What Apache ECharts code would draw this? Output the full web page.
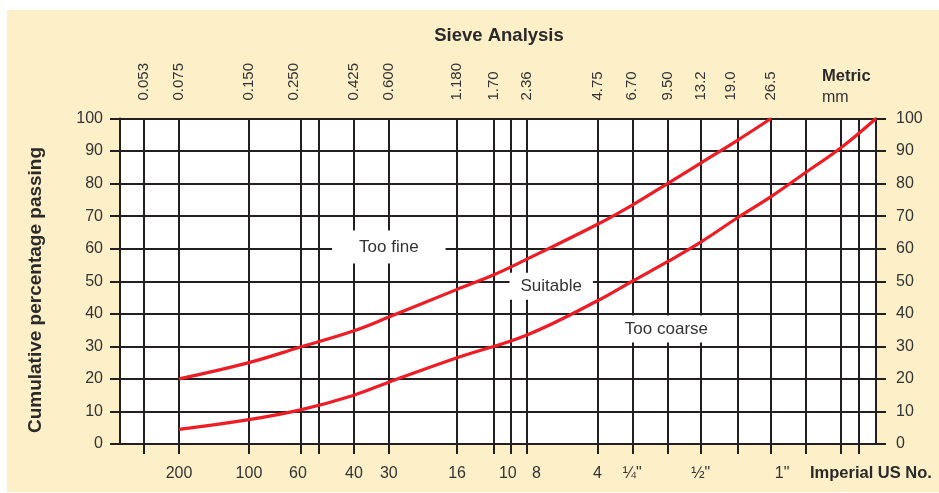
<!DOCTYPE html>
<html>
<head>
<meta charset="utf-8">
<script src="https://cdn.jsdelivr.net/npm/echarts@6/dist/echarts.min.js"></script>
<style>
html,body{margin:0;padding:0;background:#fff;}
#chart{width:939px;height:493px;}
</style>
</head>
<body>
<div id="chart"></div>
<script>
// ---------- data ----------
const titleText = 'Sieve Analysis';
const yAxisTitle = 'Cumulative percentage passing';
const metricUnitTitle = 'Metric';
const metricUnitSub = 'mm';
const imperialTitle = 'Imperial US No.';

// every sieve line drawn on the chart (mm)
const sieveLines = [0.053, 0.075, 0.15, 0.25, 0.3, 0.425, 0.6, 1.18, 1.7, 2.0, 2.36, 4.75, 6.7, 9.5, 13.2, 19.0, 26.5, 37.5, 53, 63];

// metric tick labels (top)
const metricTickValues = [0.053, 0.075, 0.15, 0.25, 0.425, 0.6, 1.18, 1.7, 2.36, 4.75, 6.7, 9.5, 13.2, 19.0, 26.5];
const metricTickLabels = ['0.053', '0.075', '0.150', '0.250', '0.425', '0.600', '1.180', '1.70', '2.36', '4.75', '6.70', '9.50', '13.2', '19.0', '26.5'];

// imperial tick labels (bottom)
const imperialTickValues = [0.075, 0.15, 0.25, 0.425, 0.6, 1.18, 2.0, 2.36, 4.75, 6.7, 13.2, 26.5];
const imperialTickLabels = ['200', '100', '60', '40', '30', '16', '10', '8', '4', '\u00bc"', '\u00bd"', '1"'];

// percentage ticks
const percentTicks = [0, 10, 20, 30, 40, 50, 60, 70, 80, 90, 100];

// fine limit curve
const fineSizes = [0.075, 0.15, 0.25, 0.425, 0.6, 1.18, 1.7, 2.36, 4.75, 6.7, 9.5, 13.2, 19.0, 26.5];
const finePassing = [20, 25, 29.8, 34.8, 39, 47.5, 52, 56.8, 67.5, 73.4, 80, 86.3, 93.3, 100];

// coarse limit curve
const coarseSizes = [0.075, 0.15, 0.25, 0.425, 0.6, 1.18, 2.36, 4.75, 6.7, 9.5, 13.2, 19.0, 26.5, 37.5, 53, 75];
const coarsePassing = [4.5, 7.5, 10.5, 15, 19, 26.5, 33.5, 44, 50, 56, 62, 69.5, 76, 83.5, 91, 100];

// zone labels
const zoneNames = ['Too fine', 'Suitable', 'Too coarse'];
const zoneSizes = [0.6, 3.0, 9.4];
const zonePassing = [60.5, 48.5, 35.3];

// ---------- styles ----------
const FONT = '"Liberation Sans", Arial, Helvetica, sans-serif';
const INK = '#231f20';
const TXT = '#333333';
const RED = '#ee1c24';
const CREAM = '#fdefc8';
const X_MIN = 0.0418, X_MAX = 75;
const zonePadding = [[8, 27], [5, 11], [5, 14]];
// small typographic nudges for a few labels (rich style names)
const topNudge = {'0.250': 'l', '19.0': 'l'};
const bottomNudge = {'8': 'r', '1"': 'r2', '60': 'l', '10': 'l'};

function lookup(values, labels, nudges) {
  return function (v) {
    for (let i = 0; i < values.length; i++) {
      if (Math.abs(values[i] - v) / values[i] < 1e-6) {
        const t = labels[i];
        return nudges[t] ? '{' + nudges[t] + '|' + t + '}' : t;
      }
    }
    return '';
  };
}

const chart = echarts.init(document.getElementById('chart'), null, {renderer: 'canvas'});

const axisText = {color: TXT, fontFamily: FONT, fontSize: 16};

const option = {
  animation: false,
  backgroundColor: CREAM,
  grid: {
    left: 120, right: 63, top: 118.5, bottom: 49,
    show: true, backgroundColor: '#ffffff', borderWidth: 0
  },
  xAxis: [
    {
      type: 'log', position: 'bottom', min: X_MIN, max: X_MAX,
      axisLine: {show: true, lineStyle: {color: INK, width: 2}},
      axisTick: {show: true, inside: false, length: 10, customValues: sieveLines, lineStyle: {color: INK, width: 2}},
      splitLine: {show: true, lineStyle: {color: INK, width: 2}},
      minorTick: {show: false}, minorSplitLine: {show: false},
      axisLabel: Object.assign({
        show: true, customValues: imperialTickValues, margin: 22,
        formatter: lookup(imperialTickValues, imperialTickLabels, bottomNudge),
        rich: {
          r: Object.assign({padding: [0, 0, 0, 19]}, axisText),
          r2: Object.assign({padding: [0, 0, 0, 22]}, axisText),
          l: Object.assign({padding: [0, 5, 0, 0]}, axisText)
        }
      }, axisText)
    },
    {
      type: 'log', position: 'top', min: X_MIN, max: X_MAX,
      axisLine: {show: true, lineStyle: {color: INK, width: 2}},
      axisTick: {show: true, inside: false, length: 10, customValues: sieveLines, lineStyle: {color: INK, width: 2}},
      splitLine: {show: false},
      minorTick: {show: false},
      axisLabel: {
        show: true, customValues: metricTickValues, margin: 18, rotate: 90,
        formatter: lookup(metricTickValues, metricTickLabels, topNudge),
        color: TXT, fontFamily: FONT, fontSize: 15,
        rich: {
          l: {padding: [0, 0, 14, 0], color: TXT, fontFamily: FONT, fontSize: 15}
        }
      }
    }
  ],
  yAxis: [
    {
      type: 'value', position: 'left', min: 0, max: 100, interval: 10,
      axisLine: {show: true, lineStyle: {color: INK, width: 2}},
      axisTick: {show: true, inside: false, length: 10, lineStyle: {color: INK, width: 2}},
      splitLine: {show: true, lineStyle: {color: INK, width: 2}},
      axisLabel: Object.assign({show: true, margin: 17,
        formatter: function (v) { return percentTicks.indexOf(v) >= 0 ? String(v) : ''; }}, axisText)
    },
    {
      type: 'value', position: 'right', min: 0, max: 100, interval: 10,
      axisLine: {show: true, lineStyle: {color: INK, width: 2}},
      axisTick: {show: true, inside: false, length: 10, lineStyle: {color: INK, width: 2}},
      splitLine: {show: false},
      axisLabel: Object.assign({show: true, margin: 20,
        formatter: function (v) { return percentTicks.indexOf(v) >= 0 ? String(v) : ''; }}, axisText)
    }
  ],
  series: [
    {
      type: 'scatter', xAxisIndex: 0, yAxisIndex: 0, symbolSize: 0, silent: true,
      itemStyle: {opacity: 1},
      emphasis: {disabled: true},
      data: zoneNames.map(function (n, i) {
        return {
          value: [zoneSizes[i], zonePassing[i]],
          label: {
            show: true, position: 'inside', formatter: n, opacity: 1,
            backgroundColor: '#ffffff', padding: zonePadding[i],
            color: TXT, fontFamily: FONT, fontSize: 17
          }
        };
      })
    },
    {
      type: 'line', name: 'Fine limit', xAxisIndex: 0, yAxisIndex: 0, smooth: 0.4,
      symbol: 'none', lineStyle: {color: RED, width: 3.2}, z: 5,
      data: fineSizes.map(function (s, i) { return [s, finePassing[i]]; })
    },
    {
      type: 'line', name: 'Coarse limit', xAxisIndex: 0, yAxisIndex: 0, smooth: 0.4,
      symbol: 'none', lineStyle: {color: RED, width: 3.2}, z: 5,
      data: coarseSizes.map(function (s, i) { return [s, coarsePassing[i]]; })
    }
  ],
  graphic: [
    {type: 'rect', shape: {x: 0, y: 0, width: 939, height: 10}, style: {fill: '#ffffff'}, silent: true},
    {type: 'rect', shape: {x: 0, y: 0, width: 7, height: 493}, style: {fill: '#ffffff'}, silent: true},
    {type: 'rect', shape: {x: 0, y: 492, width: 939, height: 1}, style: {fill: '#ffffff'}, silent: true},
    {type: 'text', x: 499, y: 36, silent: true,
      style: {text: titleText, fill: '#2a2a2a', font: 'bold 18.5px ' + FONT, textAlign: 'center', textVerticalAlign: 'middle'}},
    {type: 'text', x: 36, y: 290, rotation: Math.PI / 2, silent: true,
      style: {text: yAxisTitle, fill: '#2a2a2a', font: 'bold 19px ' + FONT, textAlign: 'center', textVerticalAlign: 'middle'}},
    {type: 'text', x: 822, y: 76, silent: true,
      style: {text: metricUnitTitle, fill: '#2a2a2a', font: 'bold 16.5px ' + FONT, textAlign: 'left', textVerticalAlign: 'middle'}},
    {type: 'text', x: 822, y: 98, silent: true,
      style: {text: metricUnitSub, fill: TXT, font: '16px ' + FONT, textAlign: 'left', textVerticalAlign: 'middle'}},
    {type: 'text', x: 810, y: 473, silent: true,
      style: {text: imperialTitle, fill: '#2a2a2a', font: 'bold 16.5px ' + FONT, textAlign: 'left', textVerticalAlign: 'middle'}}
  ]
};
chart.setOption(option);
</script>
</body>
</html>
